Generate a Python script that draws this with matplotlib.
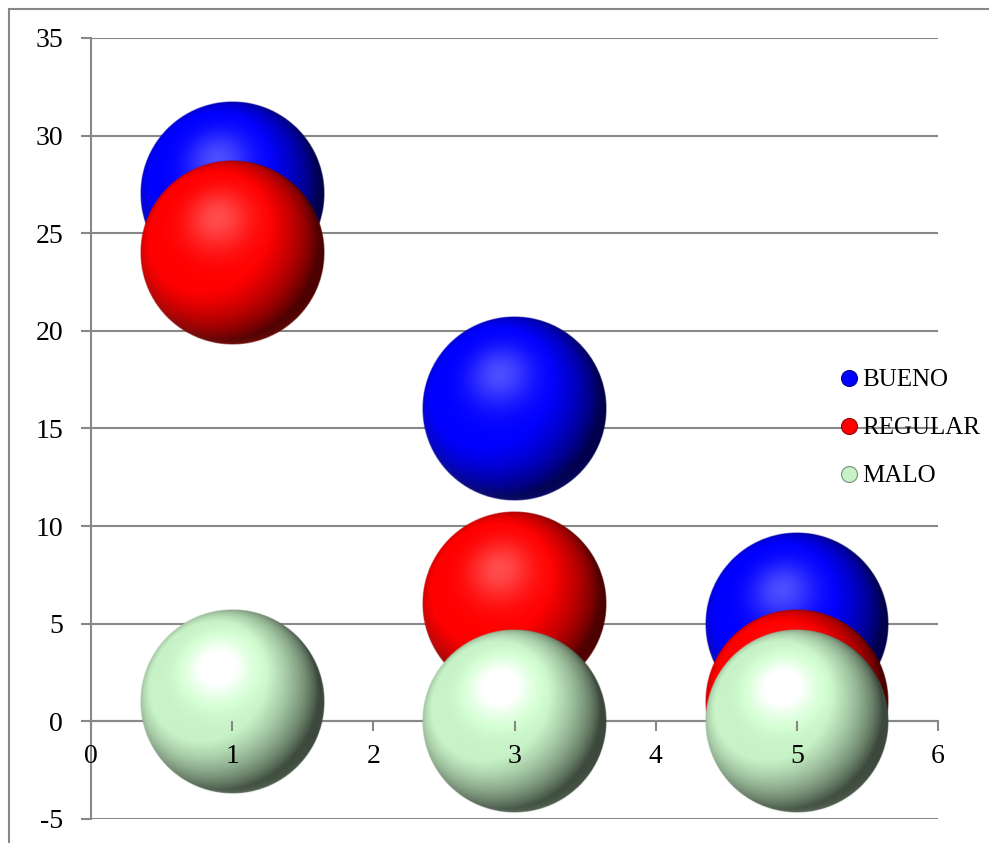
import matplotlib
matplotlib.use('Agg')
import matplotlib.pyplot as plt
import numpy as np
from matplotlib.lines import Line2D

# data
x_vals = [1, 3, 5]
bueno = [27, 16, 5]
regular = [24, 6, 1]
malo = [1, 0, 0]
series_names = ['BUENO', 'REGULAR', 'MALO']
series_colors = [(0.0, 0.0, 1.0), (1.0, 0.0, 0.0), (0.78, 0.95, 0.78)]
x_ticks = [0, 1, 2, 3, 4, 5, 6]
y_ticks = [-5, 0, 5, 10, 15, 20, 25, 30, 35]

plt.rcParams['font.family'] = ['Liberation Serif', 'DejaVu Serif']
plt.rcParams['axes.unicode_minus'] = False

W, H = 989, 843
fig = plt.figure(figsize=(W / 100, H / 100), dpi=100)
ax_l, ax_b, ax_w, ax_h = 91, 24, 847, 781
ax = fig.add_axes([ax_l / W, ax_b / H, ax_w / W, ax_h / H])
ax.patch.set_alpha(0)


def sphere(rgb, n=300):
    t = np.linspace(-1, 1, n)
    X, T = np.meshgrid(t, t)
    Y = -T
    r = np.sqrt(X**2 + Y**2)
    Z = np.sqrt(np.clip(1 - r**2, 0, None))
    L = np.array([-0.35, 0.3, 0.89]); L /= np.linalg.norm(L)
    diff = np.clip(X * L[0] + Y * L[1] + Z * L[2], 0, 1)
    Hv = np.array([-0.16, 0.37, 0.91]); Hv /= np.linalg.norm(Hv)
    spec = np.clip(X * Hv[0] + Y * Hv[1] + Z * Hv[2], 0, 1) ** 16
    base = np.array(rgb)
    col = base[None, None, :] * np.clip(0.3 + 0.95 * diff, 0, 1)[..., None]
    col += 0.3 * spec[..., None]
    # faint reflected light on the lower-left rim
    rim = (1 - Z) ** 3 * np.clip(-Y * 0.7 - X * 0.3, 0, 1)
    col += 0.3 * rim[..., None] * (0.4 + 0.6 * base[None, None, :])
    col = np.clip(col, 0, 1)
    alpha = np.clip((1 - r) * n / 2, 0, 1)
    return np.dstack([col, alpha])


def shadow(n=200):
    t = np.linspace(-1, 1, n)
    X, T = np.meshgrid(t, t)
    r = np.sqrt(X**2 + T**2)
    a = np.clip(1 - r, 0, 1) ** 1.5 * 0.22
    return np.dstack([np.zeros((n, n, 3)), a])


R_px = 92
rx = R_px / (ax_w / 6)
ry = R_px / (ax_h / 40)

# gridlines
for yv in y_ticks:
    ax.axhline(yv, color='#888888', lw=1.5, zorder=0.5)

shd = shadow()
for k, (name, vals, c) in enumerate(zip(series_names, [bueno, regular, malo], series_colors)):
    img = sphere(c)
    for xv, yv in zip(x_vals, vals):
        ax.imshow(shd, extent=[xv - rx * 1.02, xv + rx * 1.02, yv - ry * 1.1, yv + ry * 0.9],
                  aspect='auto', zorder=1 + k * 0.1, interpolation='bilinear')
        ax.imshow(img, extent=[xv - rx, xv + rx, yv - ry, yv + ry],
                  aspect='auto', zorder=1.05 + k * 0.1, interpolation='bilinear')

ax.set_xlim(0, 6)
ax.set_ylim(-5, 35)
ax.set_xticks(x_ticks)
ax.set_yticks(y_ticks)

for s in ['top', 'right']:
    ax.spines[s].set_visible(False)
ax.spines['bottom'].set_position(('data', 0))
for s in ['bottom', 'left']:
    ax.spines[s].set_color('#888888')
    ax.spines[s].set_linewidth(1.5)
    ax.spines[s].set_zorder(0.6)

ax.tick_params(axis='both', colors='#888888', width=1.5, length=7, labelcolor='black',
               labelsize=20)
ax.tick_params(axis='x', pad=9)
ax.tick_params(axis='y', pad=13)

handles = [Line2D([], [], ls='', marker='o', markersize=11.5, markerfacecolor=c,
                  markeredgecolor=tuple(v * 0.6 for v in c), markeredgewidth=0.8, label=n)
           for n, c in zip(series_names, series_colors)]
ax.legend(handles=handles, loc='center left', bbox_to_anchor=(841 / W, 1 - 428 / H),
          bbox_transform=fig.transFigure, frameon=False, fontsize=18, handlelength=0.6,
          handletextpad=0.25, labelspacing=1.02, borderpad=0, borderaxespad=0)

# outer chart border
fig.add_artist(Line2D([8.5 / W, 8.5 / W], [0, 1 - 8.5 / H], transform=fig.transFigure,
                      color='#888888', lw=1.5))
fig.add_artist(Line2D([8.5 / W, 1], [1 - 8.5 / H, 1 - 8.5 / H], transform=fig.transFigure,
                      color='#888888', lw=1.5))

fig.savefig('out.png', dpi=100)
